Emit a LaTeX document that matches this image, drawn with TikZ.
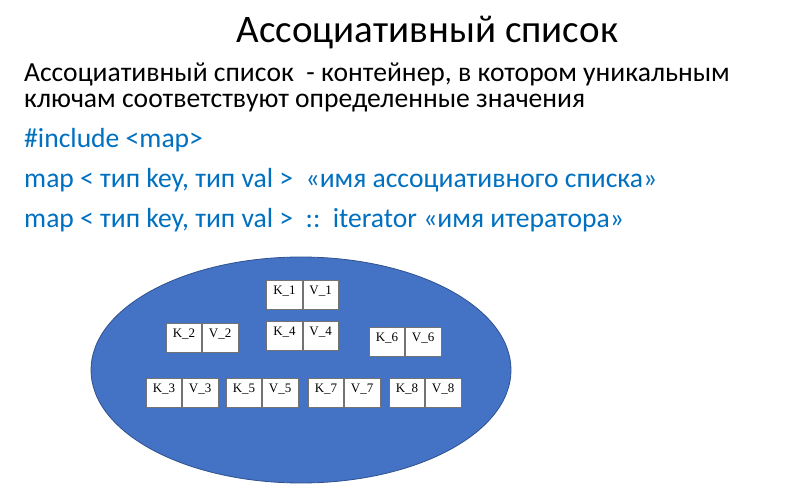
\documentclass[tikz,border=0pt]{standalone}
\usepackage{fontspec}
\setmainfont{Carlito}
\newfontfamily\cellfont{Liberation Serif}
\usetikzlibrary{positioning}
\definecolor{codeblue}{RGB}{0,112,192}
\definecolor{mapfill}{RGB}{68,114,196}
\definecolor{mapline}{RGB}{47,82,143}
\tikzset{
  cell/.style={draw=black!55, fill=white, line width=0.6pt, inner sep=0pt,
    minimum width=35.5pt, minimum height=29pt, text height=10pt, text depth=9pt,
    font=\cellfont\fontsize{13}{13}\selectfont},
  bodytext/.style={anchor=base west, inner sep=0pt, font=\fontsize{27.6}{27.6}\selectfont},
  codetext/.style={bodytext, text=codeblue},
}
\begin{document}
\begin{tikzpicture}[x=1pt,y={(0pt,-1pt)}]
  \useasboundingbox (0,0) rectangle (804,502);
  \fill[white] (0,0) rectangle (804,502);
  % title and text
  \node[anchor=base, inner sep=0pt, font=\fontsize{39}{39}\selectfont] (title) at (427.5,43) {Ассоциативный список};
  \node[bodytext, text depth=3pt] (def1) at (24,82) {Ассоциативный список\ \ - контейнер, в котором уникальным};
  \node[bodytext] (def2) at (24,108) {ключам соответствуют определенные значения};
  \node[codetext] (incl) at (24,148) {\#include <map>};
  \node[codetext] (decl) at (24,188) {map < тип key, тип val >\ \ «имя ассоциативного списка»};
  \node[codetext] (iter) at (24,228) {map < тип key, тип val >\ \ ::\ \ iterator «имя итератора»};
  % the map
  \draw[fill=mapfill, draw=mapline, line width=0.8pt] (301,370) ellipse [x radius=210pt, y radius=113pt];
  \foreach \i/\x/\y in {1/284.5/294.5, 2/184/337.5, 4/284.5/335.5, 6/387/341.5,
                        3/164/392.5, 5/244/392.5, 7/326/392.5, 8/407/392.5}
  {
    \node[cell] (k\i) at (\x,\y) {K\_\i};
    \node[cell, right=0pt of k\i] (v\i) {V\_\i};
  }
\end{tikzpicture}
\end{document}
